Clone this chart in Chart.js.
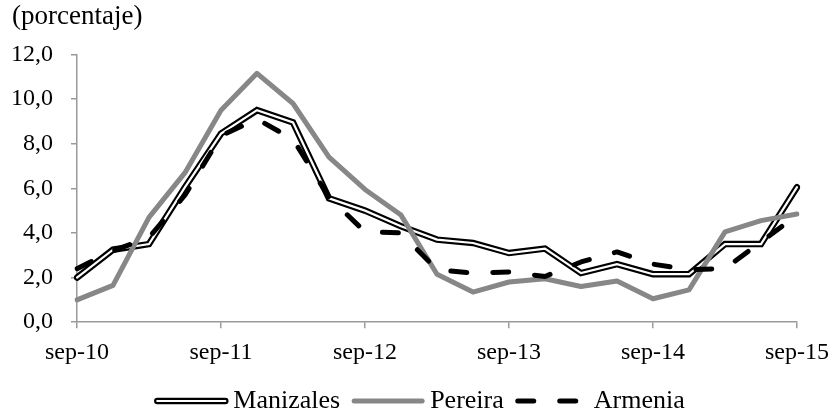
<!DOCTYPE html>
<html>
<head>
<meta charset="utf-8">
<script src="https://cdn.jsdelivr.net/npm/chart.js@4.4.1/dist/chart.umd.min.js"></script>
<style>
  html, body { margin: 0; padding: 0; background: #fff; }
  #wrap { width: 833px; height: 414px; position: relative; }
</style>
</head>
<body>
<div id="wrap"><canvas id="chart"></canvas></div>
<script>
// quarterly observations, sep-10 .. sep-15
const quarters = ['sep-10', 'dic-10', 'mar-11', 'jun-11', 'sep-11', 'dic-11', 'mar-12', 'jun-12',
  'sep-12', 'dic-12', 'mar-13', 'jun-13', 'sep-13', 'dic-13', 'mar-14', 'jun-14',
  'sep-14', 'dic-14', 'mar-15', 'jun-15', 'sep-15'];
const xTickLabels = ['sep-10', 'sep-11', 'sep-12', 'sep-13', 'sep-14', 'sep-15'];
const yTickValues = [0, 2, 4, 6, 8, 10, 12];

const manizales = [2.0, 3.25, 3.5, 6.05, 8.45, 9.5, 8.95, 5.55, 5.0, 4.3, 3.7, 3.55, 3.1, 3.3, 2.2, 2.6, 2.15, 2.15, 3.5, 3.5, 6.05];
const pereira = [1.0, 1.65, 4.7, 6.7, 9.5, 11.15, 9.8, 7.4, 5.95, 4.8, 2.15, 1.35, 1.8, 1.95, 1.6, 1.85, 1.05, 1.45, 4.05, 4.55, 4.85];
const armenia = [2.4, 3.2, 3.8, 5.7, 8.35, 9.1, 8.2, 5.6, 4.05, 4.0, 2.35, 2.2, 2.25, 2.05, 2.7, 3.15, 2.6, 2.35, 2.4, 3.6, 4.8];

const serif = "'Liberation Serif', 'Times New Roman', serif";
const axisGray = '#9a9a9a';
const legendFont = 26;

Chart.defaults.font.family = serif;
Chart.defaults.color = '#000';

// legend boxes are left empty by Chart.js, the line samples are drawn here
// (double line for Manizales, dashes for Armenia)
const legendLines = {
  id: 'legendLines',
  afterDraw(chart) {
    const legend = chart.legend;
    if (!legend || !legend.legendHitBoxes) return;
    const ctx = chart.ctx;
    legend.legendHitBoxes.forEach((box, i) => {
      const ds = chart.data.datasets[legend.legendItems[i].datasetIndex];
      const y = box.top + legendFont / 2;
      const x0 = box.left + 3, x1 = box.left + 71;
      ctx.save();
      ctx.lineCap = 'round';
      ctx.strokeStyle = ds.borderColor;
      ctx.lineWidth = ds.borderWidth;
      ctx.setLineDash(ds.borderDash || []);
      ctx.beginPath(); ctx.moveTo(x0, y); ctx.lineTo(x1, y); ctx.stroke();
      if (ds.label === 'Manizales') {
        ctx.strokeStyle = '#fff';
        ctx.lineWidth = 2.2;
        ctx.beginPath(); ctx.moveTo(x0, y); ctx.lineTo(x1, y); ctx.stroke();
      }
      ctx.restore();
    });
  }
};

new Chart(document.getElementById('chart'), {
  type: 'line',
  data: {
    labels: quarters,
    datasets: [
      { label: 'Manizales', data: manizales, borderColor: '#000', borderWidth: 6.5,
        borderCapStyle: 'round', borderJoinStyle: 'miter', order: 3 },
      { label: 'Manizales-core', data: manizales, borderColor: '#fff', borderWidth: 2.2,
        borderCapStyle: 'round', borderJoinStyle: 'miter', order: 2 },
      { label: 'Pereira', data: pereira, borderColor: '#878787', borderWidth: 5,
        borderCapStyle: 'round', borderJoinStyle: 'round', order: 1 },
      { label: 'Armenia', data: armenia, borderColor: '#000', borderWidth: 5,
        borderDash: [16, 26], borderCapStyle: 'round', borderJoinStyle: 'round', order: 0 }
    ]
  },
  options: {
    responsive: true,
    maintainAspectRatio: false,
    animation: false,
    layout: { padding: { left: 12, right: 6, top: 0, bottom: -10 } },
    elements: { point: { radius: 0 }, line: { tension: 0, fill: false } },
    plugins: {
      title: {
        display: true, text: '(porcentaje)', align: 'start', color: '#000',
        font: { family: serif, size: 27, weight: 'normal' },
        padding: { top: 1, bottom: 21 }
      },
      legend: {
        position: 'bottom',
        labels: {
          boxWidth: 66, boxHeight: 0,
          color: '#000', font: { family: serif, size: legendFont }, padding: 11,
          filter: item => item.text !== 'Manizales-core',
          sort: (a, b) => a.datasetIndex - b.datasetIndex,
          generateLabels: chart => Chart.defaults.plugins.legend.labels.generateLabels(chart)
            .map(item => Object.assign(item, { fillStyle: 'rgba(0,0,0,0)', strokeStyle: 'rgba(0,0,0,0)', lineWidth: 0 }))
        }
      },
      tooltip: { enabled: false }
    },
    scales: {
      x: {
        offset: false,
        afterFit: scale => { scale.paddingRight = 36; },
        grid: {
          drawOnChartArea: false, tickLength: 6, lineWidth: 1.5,
          color: ctx => (xTickLabels.includes(quarters[ctx.index]) ? axisGray : 'rgba(0,0,0,0)')
        },
        border: { color: axisGray, width: 1.5 },
        ticks: {
          autoSkip: false, maxRotation: 0, color: '#000', padding: 10,
          font: { family: serif, size: 24 },
          callback: (v, i) => (xTickLabels.includes(quarters[i]) ? quarters[i] : '')
        }
      },
      y: {
        min: 0, max: 12,
        afterBuildTicks: scale => { scale.ticks = yTickValues.map(v => ({ value: v })); },
        afterFit: scale => { scale.width = 65; },
        grid: { drawOnChartArea: false, tickLength: 6, lineWidth: 1.5, color: axisGray },
        border: { color: axisGray, width: 1.5 },
        ticks: {
          color: '#000', padding: 18,
          font: { family: serif, size: 24 },
          callback: v => v.toFixed(1).replace('.', ',')
        }
      }
    }
  },
  plugins: [legendLines]
});
</script>
</body>
</html>
